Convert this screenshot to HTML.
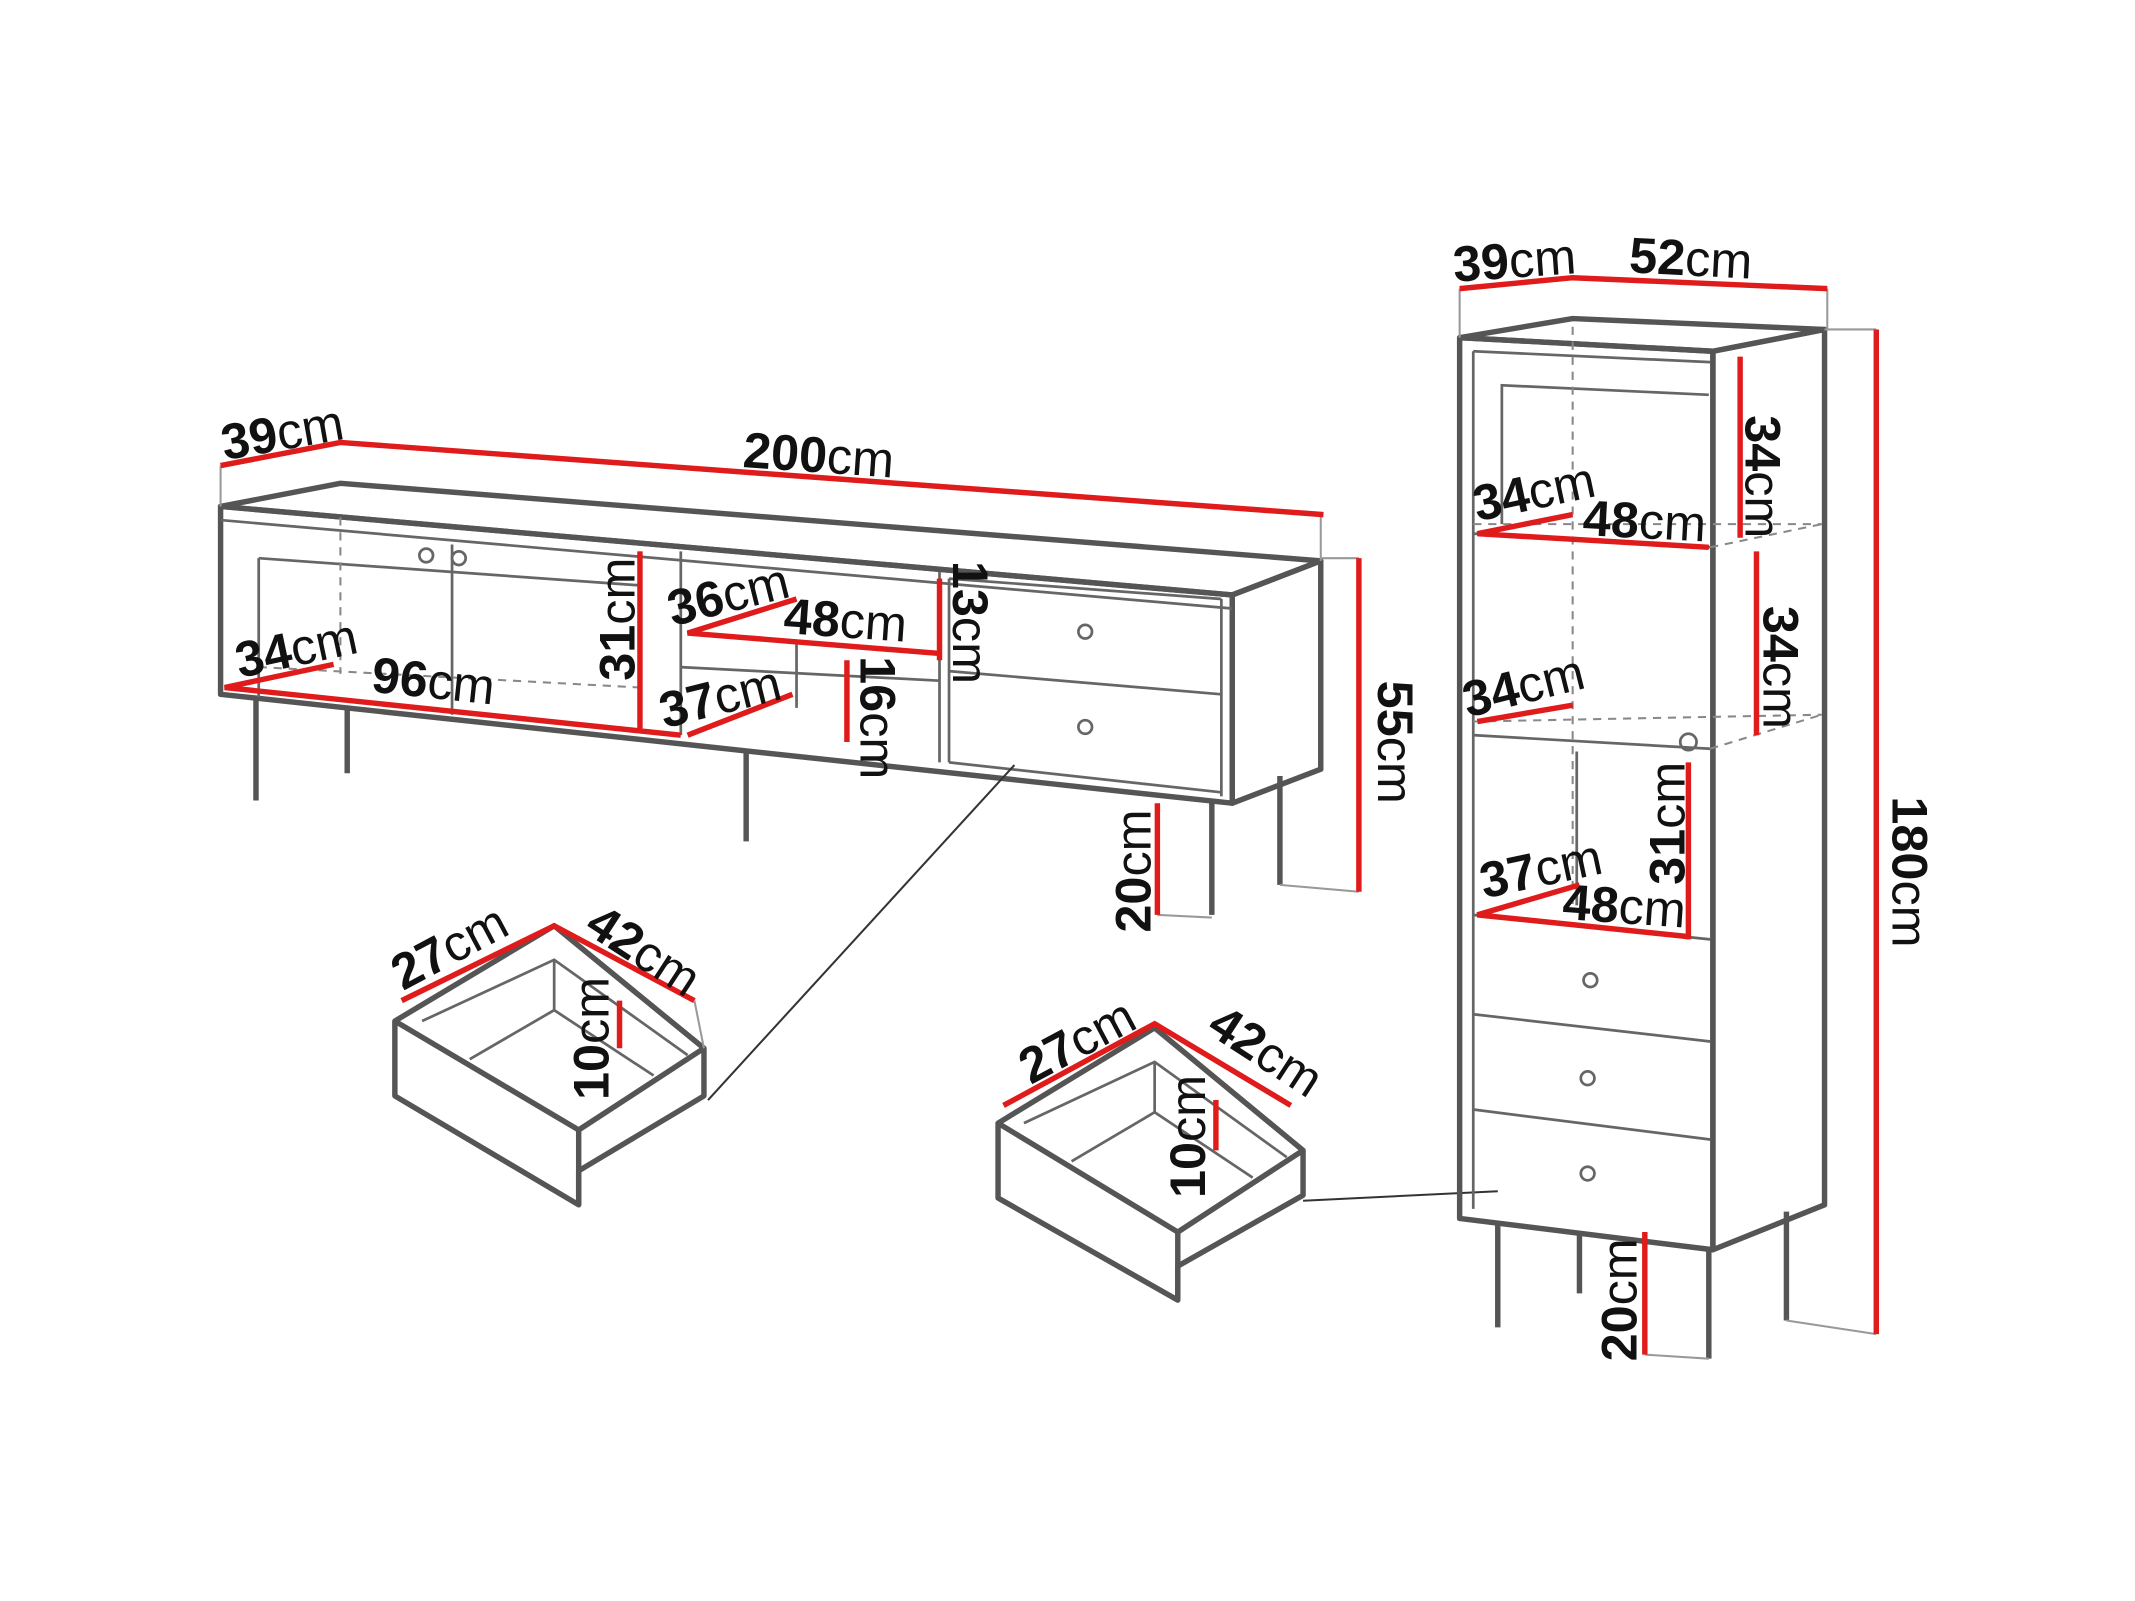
<!DOCTYPE html>
<html><head><meta charset="utf-8"><style>
html,body{margin:0;padding:0;background:#fff;}
svg{display:block;}
text{font-family:"Liberation Sans",sans-serif;font-size:37px;fill:#111;}
.b{font-weight:bold;}
.k{fill:none;stroke:#555;stroke-width:4;stroke-linejoin:round;}
.t{fill:none;stroke:#666;stroke-width:2;}
.d{fill:none;stroke:#888;stroke-width:1.5;stroke-dasharray:6 5;}
.r{fill:none;stroke:#e01b1b;stroke-width:4;}
.g{fill:none;stroke:#999;stroke-width:1.5;}
</style></head><body>
<svg width="2135" height="1601" viewBox="0 0 1568 1176" preserveAspectRatio="none" xmlns="http://www.w3.org/2000/svg">
<rect width="1568" height="1176" fill="#fff"/>
<polygon class="k" points="162,372 250,355 970,412 905,437"/>
<polygon class="k" points="162,372 905,437 905,590 162,510"/>
<polygon class="k" points="905,437 970,412 970,565 905,590"/>
<line class="t" x1="162" y1="382" x2="905" y2="447"/>
<polyline class="t" points="190,410 190,512"/><line class="t" x1="190" y1="410" x2="470" y2="430"/>
<line class="t" x1="332" y1="400" x2="332" y2="525"/><line class="t" x1="470" y1="405" x2="470" y2="538"/>
<line class="t" x1="500" y1="405" x2="500" y2="540"/><line class="t" x1="690" y1="420" x2="690" y2="560"/>
<line class="t" x1="500" y1="490" x2="690" y2="500"/><line class="t" x1="585" y1="470" x2="585" y2="520"/>
<line class="t" x1="697" y1="425" x2="697" y2="560"/><line class="t" x1="897" y1="440" x2="897" y2="585"/>
<line class="t" x1="697" y1="425" x2="897" y2="440"/><line class="t" x1="697" y1="493" x2="897" y2="510"/>
<line class="t" x1="697" y1="560" x2="897" y2="582"/>
<line class="d" x1="250" y1="380" x2="250" y2="495"/><line class="d" x1="190" y1="490" x2="470" y2="505"/>
<circle class="t" cx="313" cy="408" r="5"/><circle class="t" cx="337" cy="410" r="5"/>
<circle class="t" cx="797" cy="464" r="5"/><circle class="t" cx="797" cy="534" r="5"/>
<g class="k"><line x1="188" y1="512" x2="188" y2="588"/><line x1="255" y1="520" x2="255" y2="568"/><line x1="548" y1="550" x2="548" y2="618"/><line x1="890" y1="590" x2="890" y2="672"/><line x1="940" y1="570" x2="940" y2="650"/></g>
<line class="g" x1="940" y1="650" x2="998" y2="655"/><line class="g" x1="850" y1="672" x2="890" y2="674"/>
<line class="g" x1="162" y1="342" x2="162" y2="372"/><line class="g" x1="970" y1="378" x2="970" y2="412"/>
<line class="g" x1="970" y1="410" x2="998" y2="410"/>
<polyline class="r" points="162,342 250,325 972,378"/>
<line class="r" x1="998" y1="410" x2="998" y2="655"/>
<line class="r" x1="850" y1="590" x2="850" y2="672"/>
<polyline class="r" points="245,488 165,505 500,540"/>
<line class="r" x1="470" y1="405" x2="470" y2="535"/>
<polyline class="r" points="585,440 505,465 690,480"/>
<line class="r" x1="690" y1="425" x2="690" y2="485"/>
<polyline class="r" points="582,510 505,540"/>
<line class="r" x1="622" y1="485" x2="622" y2="545"/>
<text x="165" y="338" transform="rotate(-10 165 338)"><tspan class="b">39</tspan>cm</text>
<text x="545" y="343" transform="rotate(4 545 343)"><tspan class="b">200</tspan>cm</text>
<text x="1012" y="500" transform="rotate(90 1012 500)"><tspan class="b">55</tspan>cm</text>
<text x="845" y="685" transform="rotate(-90 845 685)"><tspan class="b">20</tspan>cm</text>
<text x="176" y="498" transform="rotate(-12 176 498)"><tspan class="b">34</tspan>cm</text>
<text x="272" y="508" transform="rotate(6 272 508)"><tspan class="b">96</tspan>cm</text>
<text x="466" y="500" transform="rotate(-90 466 500)"><tspan class="b">31</tspan>cm</text>
<text x="494" y="460" transform="rotate(-14 494 460)"><tspan class="b">36</tspan>cm</text>
<text x="575" y="465" transform="rotate(4 575 465)"><tspan class="b">48</tspan>cm</text>
<text x="700" y="412" transform="rotate(90 700 412)"><tspan class="b">13</tspan>cm</text>
<text x="488" y="535" transform="rotate(-14 488 535)"><tspan class="b">37</tspan>cm</text>
<text x="632" y="482" transform="rotate(90 632 482)"><tspan class="b">16</tspan>cm</text>
<line class="g" x1="745" y1="562" x2="520" y2="808" style="stroke:#333"/>
<polygon class="k" points="290,750 407,680 517,770 517,805 425,860 425,885 290,805"/>
<polyline class="k" points="290,750 425,830 517,770"/>
<line class="k" x1="425" y1="830" x2="425" y2="885"/>
<polyline class="t" points="310,750 407,705 505,775"/><line class="t" x1="407" y1="705" x2="407" y2="742"/>
<polyline class="t" points="345,778 407,742 480,790"/>
<polyline class="r" points="295,735 407,680 510,735"/>
<line class="r" x1="455" y1="735" x2="455" y2="770"/>
<line class="g" x1="510" y1="735" x2="517" y2="770"/>
<text x="296" y="728" transform="rotate(-28 296 728)"><tspan class="b">27</tspan>cm</text>
<text x="428" y="684" transform="rotate(33 428 684)"><tspan class="b">42</tspan>cm</text>
<text x="447" y="808" transform="rotate(-90 447 808)"><tspan class="b">10</tspan>cm</text>
<polygon class="k" points="733,825 848,755 957,845 957,878 865,930 865,955 733,880"/>
<polyline class="k" points="733,825 865,905 957,845"/>
<line class="k" x1="865" y1="905" x2="865" y2="955"/>
<polyline class="t" points="752,825 848,780 945,850"/><line class="t" x1="848" y1="780" x2="848" y2="817"/>
<polyline class="t" points="787,853 848,817 920,865"/>
<polyline class="r" points="737,812 848,752 948,812"/>
<line class="r" x1="893" y1="808" x2="893" y2="845"/>
<line class="g" x1="957" y1="882" x2="1100" y2="875" style="stroke:#333"/>
<text x="757" y="797" transform="rotate(-28 757 797)"><tspan class="b">27</tspan>cm</text>
<text x="885" y="758" transform="rotate(33 885 758)"><tspan class="b">42</tspan>cm</text>
<text x="885" y="880" transform="rotate(-90 885 880)"><tspan class="b">10</tspan>cm</text>
<polygon class="k" points="1072,248 1155,234 1340,242 1258,258"/>
<polygon class="k" points="1072,248 1258,258 1258,918 1072,895"/>
<polygon class="k" points="1258,258 1340,242 1340,885 1258,918"/>
<line class="t" x1="1082" y1="258" x2="1082" y2="888"/><line class="t" x1="1082" y1="258" x2="1256" y2="266"/>
<polyline class="t" points="1103,385 1103,283 1255,290"/>
<line class="t" x1="1082" y1="392" x2="1256" y2="402"/><line class="t" x1="1082" y1="540" x2="1256" y2="550"/>
<line class="t" x1="1082" y1="672" x2="1256" y2="690"/>
<line class="t" x1="1082" y1="745" x2="1256" y2="765"/><line class="t" x1="1082" y1="815" x2="1256" y2="837"/>
<line class="t" x1="1158" y1="552" x2="1158" y2="665"/>
<line class="d" x1="1155" y1="240" x2="1155" y2="665"/>
<polyline class="d" points="1256,402 1338,385"/><polyline class="d" points="1256,550 1338,525"/>
<line class="d" x1="1082" y1="530" x2="1338" y2="525"/><line class="d" x1="1082" y1="385" x2="1338" y2="385"/>
<circle class="t" cx="1240" cy="545" r="6"/>
<circle class="t" cx="1168" cy="720" r="5"/><circle class="t" cx="1166" cy="792" r="5"/><circle class="t" cx="1166" cy="862" r="5"/>
<g class="k"><line x1="1100" y1="900" x2="1100" y2="975"/><line x1="1160" y1="905" x2="1160" y2="950"/><line x1="1255" y1="918" x2="1255" y2="998"/><line x1="1312" y1="890" x2="1312" y2="970"/></g>
<line class="g" x1="1072" y1="212" x2="1072" y2="248"/><line class="g" x1="1342" y1="212" x2="1342" y2="242"/>
<line class="g" x1="1340" y1="242" x2="1378" y2="242"/><line class="g" x1="1312" y1="970" x2="1378" y2="980"/>
<line class="g" x1="1208" y1="995" x2="1255" y2="998"/>
<polyline class="r" points="1072,212 1155,204 1342,212"/>
<line class="r" x1="1378" y1="242" x2="1378" y2="980"/>
<line class="r" x1="1208" y1="905" x2="1208" y2="995"/>
<line class="r" x1="1278" y1="262" x2="1278" y2="395"/>
<line class="r" x1="1290" y1="405" x2="1290" y2="540"/>
<polyline class="r" points="1155,378 1085,392 1255,402"/>
<polyline class="r" points="1155,518 1085,530"/>
<line class="r" x1="1240" y1="560" x2="1240" y2="690"/>
<polyline class="r" points="1160,650 1085,672 1240,688"/>
<text x="1068" y="207" transform="rotate(-4 1068 207)"><tspan class="b">39</tspan>cm</text>
<text x="1196" y="200" transform="rotate(3 1196 200)"><tspan class="b">52</tspan>cm</text>
<text x="1390" y="585" transform="rotate(90 1390 585)"><tspan class="b">180</tspan>cm</text>
<text x="1282" y="305" transform="rotate(90 1282 305)"><tspan class="b">34</tspan>cm</text>
<text x="1295" y="445" transform="rotate(90 1295 445)"><tspan class="b">34</tspan>cm</text>
<text x="1085" y="383" transform="rotate(-12 1085 383)"><tspan class="b">34</tspan>cm</text>
<text x="1162" y="393" transform="rotate(3 1162 393)"><tspan class="b">48</tspan>cm</text>
<text x="1078" y="527" transform="rotate(-14 1078 527)"><tspan class="b">34</tspan>cm</text>
<text x="1237" y="650" transform="rotate(-90 1237 650)"><tspan class="b">31</tspan>cm</text>
<text x="1090" y="660" transform="rotate(-12 1090 660)"><tspan class="b">37</tspan>cm</text>
<text x="1147" y="675" transform="rotate(4 1147 675)"><tspan class="b">48</tspan>cm</text>
<text x="1202" y="1000" transform="rotate(-90 1202 1000)"><tspan class="b">20</tspan>cm</text>
</svg>
</body></html>
